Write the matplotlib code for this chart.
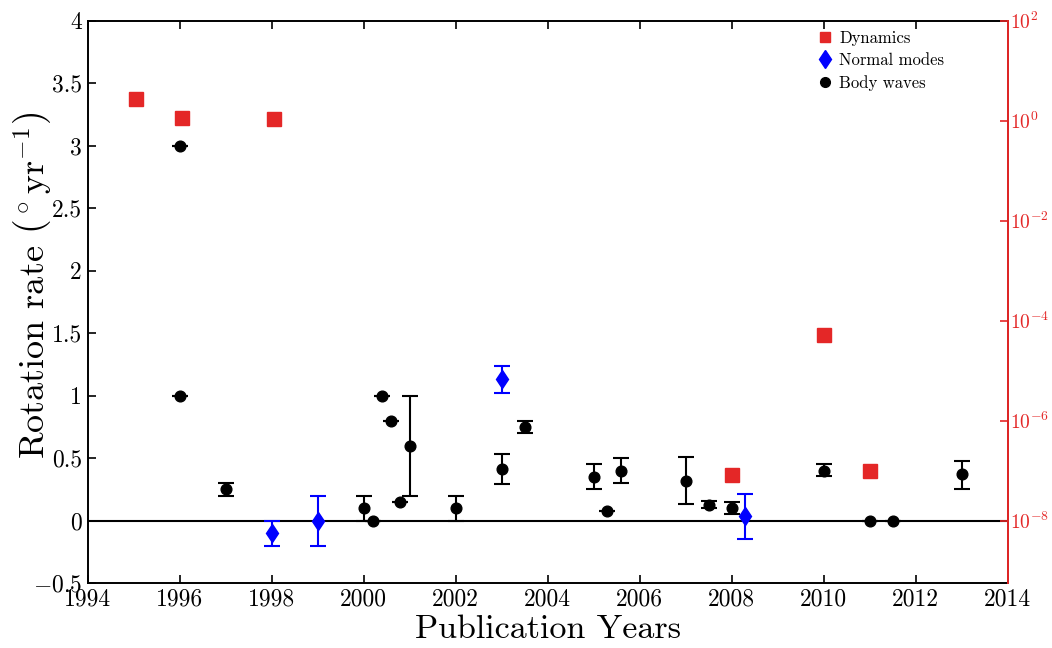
import numpy as np
import matplotlib
matplotlib.use("Agg")
import matplotlib.pyplot as plt
from matplotlib.lines import Line2D

plt.rcParams['font.family'] = 'serif'
plt.rcParams['font.serif'] = ['cmr10']
plt.rcParams['mathtext.fontset'] = 'cm'
plt.rcParams['axes.formatter.use_mathtext'] = True
plt.rcParams['axes.unicode_minus'] = False

RED = '#e42727'
BLUE = '#0000ff'

# ---- Body waves ----
bw_year = [1996.0, 1996.0, 1997.0, 2000.0, 2000.2, 2000.4, 2000.6, 2000.8, 2001.0, 2002.0,
           2003.0, 2003.5, 2005.0, 2005.3, 2005.6, 2007.0, 2007.5, 2008.0, 2010.0, 2011.0,
           2011.5, 2013.0]
bw_rate = [3.0, 1.0, 0.25, 0.10, 0.0, 1.0, 0.80, 0.15, 0.60, 0.10,
           0.41, 0.75, 0.35, 0.08, 0.40, 0.32, 0.125, 0.10, 0.40, 0.0,
           0.0, 0.37]
bw_low = [3.0, 1.0, 0.20, 0.0, 0.0, 1.0, 0.80, 0.15, 0.20, 0.0,
          0.29, 0.70, 0.25, 0.08, 0.30, 0.13, 0.10, 0.05, 0.355, 0.0,
          0.0, 0.25]
bw_high = [3.0, 1.0, 0.30, 0.20, 0.0, 1.0, 0.80, 0.15, 1.0, 0.20,
           0.53, 0.80, 0.45, 0.08, 0.50, 0.51, 0.155, 0.15, 0.45, 0.0,
           0.0, 0.48]

# ---- Normal modes ----
nm_year = [1998.0, 1999.0, 2003.0, 2008.3]
nm_rate = [-0.10, 0.0, 1.13, 0.035]
nm_low = [-0.20, -0.20, 1.02, -0.15]
nm_high = [0.0, 0.20, 1.24, 0.21]

# ---- Dynamics (right log axis) ----
dy_year = [1995.05, 1996.05, 1998.05, 2008.0, 2010.0, 2011.0]
dy_rate = [2.7, 1.15, 1.05, 8.3e-8, 5.2e-5, 1.0e-7]

x_ticks = [1994, 1996, 1998, 2000, 2002, 2004, 2006, 2008, 2010, 2012, 2014]
y_ticks = [-0.5, 0, 0.5, 1, 1.5, 2, 2.5, 3, 3.5, 4]
y_ticklabels = ['$-0.5$', '0', '0.5', '1', '1.5', '2', '2.5', '3', '3.5', '4']
r_ticks = [1e-8, 1e-6, 1e-4, 1e-2, 1e0, 1e2]
r_ticklabels = ['$10^{-8}$', '$10^{-6}$', '$10^{-4}$', '$10^{-2}$', '$10^{0}$', '$10^{2}$']

fig = plt.figure(figsize=(10.52, 6.48), dpi=100)
ax = fig.add_axes([0.0832, 0.1003, 0.8745, 0.868])

ax.axhline(0, color='black', lw=1.5, zorder=1)

bw_rate_a = np.array(bw_rate)
ax.errorbar(bw_year, bw_rate,
            yerr=[bw_rate_a - np.array(bw_low), np.array(bw_high) - bw_rate_a],
            fmt='o', color='black', ms=7.7, elinewidth=1.5, capsize=5.5, capthick=1.5, zorder=3)
nm_rate_a = np.array(nm_rate)
ax.errorbar(nm_year, nm_rate,
            yerr=[nm_rate_a - np.array(nm_low), np.array(nm_high) - nm_rate_a],
            fmt='d', color=BLUE, ms=9.5, elinewidth=1.5, capsize=5.5, capthick=1.5, zorder=3)

ax.set_xlim(1994, 2014)
ax.set_ylim(-0.5, 4)
ax.set_xticks(x_ticks)
ax.set_xticklabels([str(t) for t in x_ticks])
ax.set_yticks(y_ticks)
ax.set_yticklabels(y_ticklabels)
ax.tick_params(direction='in', length=6, width=1.2, labelsize=17, top=True, right=True, pad=4)
for s in ax.spines.values():
    s.set_linewidth(1.4)

ax.set_xlabel('Publication Years', fontsize=24.5, labelpad=3)
ax.set_ylabel(r'Rotation rate $\left({}^\circ\mathrm{yr}^{-1}\right)$', fontsize=26)
ax.yaxis.set_label_coords(-0.037, 0.53)

ax2 = ax.twinx()
ax2.set_yscale('log')
ax2.plot(dy_year, dy_rate, 's', color=RED, ms=10, zorder=4)
ax2.set_ylim(10**-9.25, 1e2)
ax2.set_yticks(r_ticks)
ax2.set_yticklabels(r_ticklabels)
ax2.yaxis.set_minor_locator(matplotlib.ticker.NullLocator())
ax2.tick_params(axis='y', direction='in', length=6, width=1.2, colors=RED, labelsize=14, pad=2)
ax2.spines['right'].set_color(RED)
ax2.spines['right'].set_linewidth(1.4)
for k in ['left', 'top', 'bottom']:
    ax2.spines[k].set_visible(False)
ax2.set_xlim(1994, 2014)

handles = [Line2D([], [], ls='none', marker='s', color=RED, ms=6.7),
           Line2D([], [], ls='none', marker='d', color=BLUE, ms=9.5),
           Line2D([], [], ls='none', marker='o', color='black', ms=7)]
fig.legend(handles, ['Dynamics', 'Normal modes', 'Body waves'], loc='upper left',
           bbox_to_anchor=(0.778, 0.953), frameon=False, fontsize=12,
           handlelength=0.8, handletextpad=0.45, labelspacing=0.42, borderpad=0, borderaxespad=0)

fig.savefig('out.png', dpi=100)
